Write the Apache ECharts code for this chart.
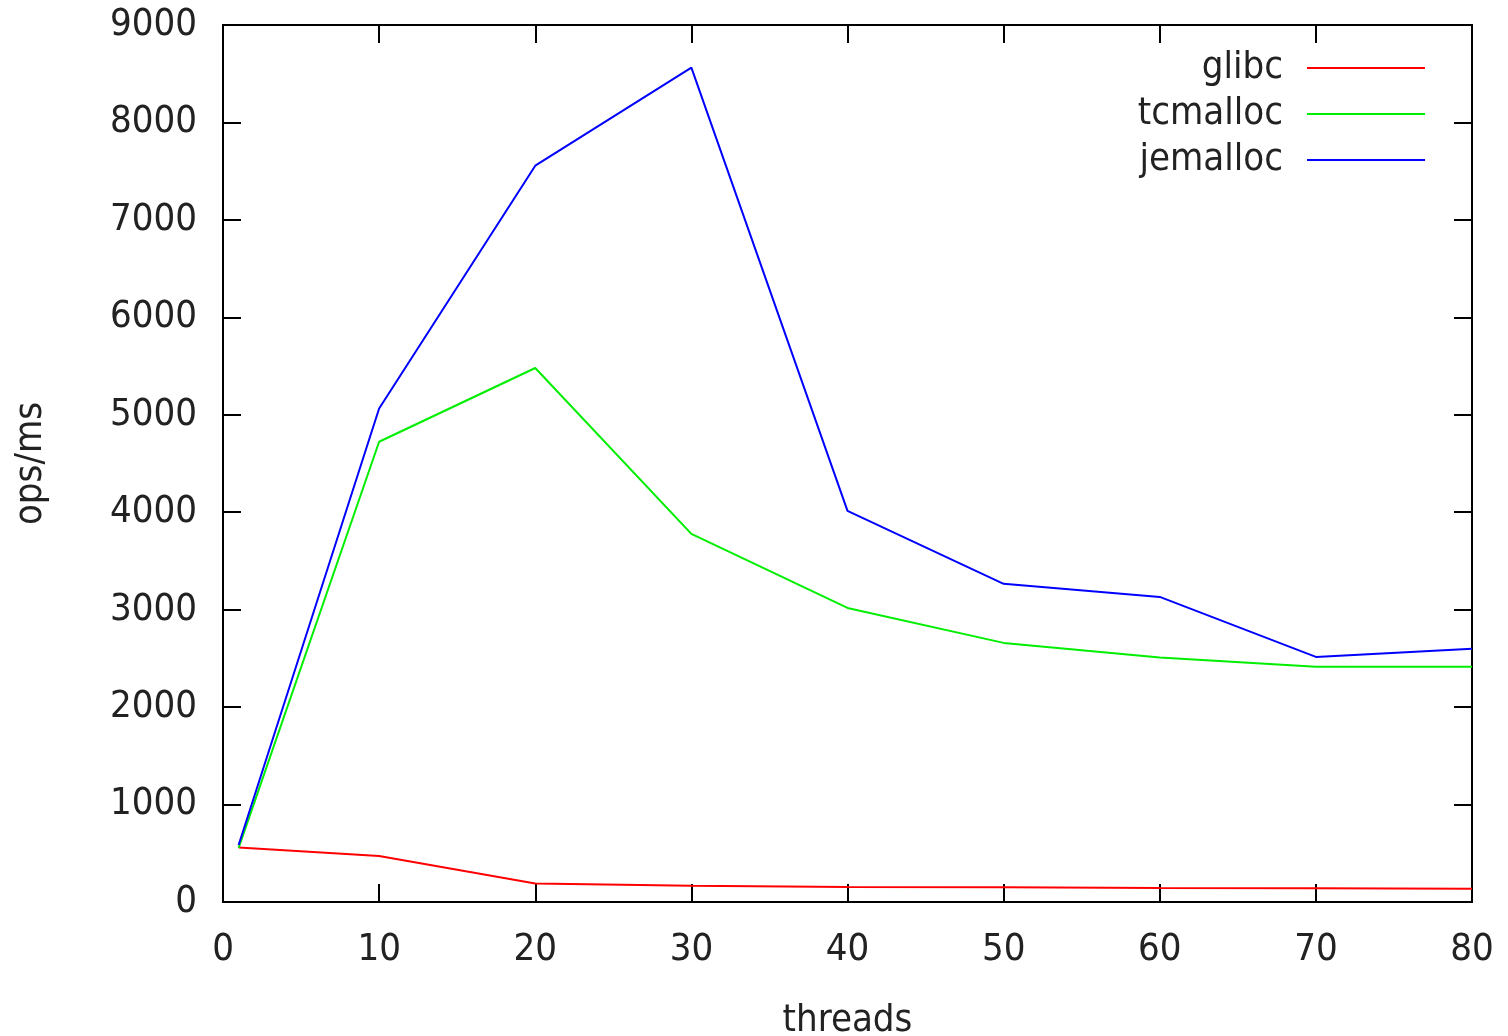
<!DOCTYPE html>
<html>
<head>
<meta charset="utf-8">
<script src="https://cdn.jsdelivr.net/npm/echarts@6/dist/echarts.min.js"></script>
<style>html,body{margin:0;padding:0;background:#fff}#c{width:1508px;height:1036px}</style>
</head>
<body>
<div id="c"></div>
<script>
const threads = [1, 10, 20, 30, 40, 50, 60, 70, 80];
const glibc = [560, 472, 190, 168, 155, 152, 144, 142, 135];
const tcmalloc = [555, 4723, 5480, 3778, 3018, 2659, 2510, 2413, 2413];
const jemalloc = [585, 5065, 7556, 8563, 4014, 3265, 3131, 2515, 2600];
const seriesNames = ['glibc', 'tcmalloc', 'jemalloc'];
const seriesColors = ['#ff0000', '#00ee00', '#0000ff'];

const FONT = '"DejaVu Sans Condensed", "DejaVu Sans", sans-serif';
const chart = echarts.init(document.getElementById('c'));
const mk = (name, vals, color) => ({
  name, type: 'line', data: threads.map((t, i) => [t, vals[i]]),
  showSymbol: false, symbol: 'none', lineStyle: { color, width: 2 }, itemStyle: { color },
  animation: false
});
const tickCommon = { show: true, inside: true, length: 18, lineStyle: { color: '#000', width: 2 } };
const lineCommon = { show: true, onZero: false, lineStyle: { color: '#000', width: 2 } };
const plain = v => String(v);
chart.setOption({
  backgroundColor: '#fff',
  animation: false,
  textStyle: { fontFamily: FONT },
  grid: { left: 223, right: 36, top: 25, bottom: 134, outerBoundsMode: 'none', containLabel: false,
          show: true, borderColor: '#000', borderWidth: 2, backgroundColor: 'transparent' },
  legend: {
    orient: 'vertical', right: 83, top: 49, align: 'right', padding: 0,
    icon: 'rect', itemWidth: 118, itemHeight: 2, itemGap: 8,
    textStyle: { fontFamily: FONT, fontSize: 38, color: '#222', padding: [0, 19, 0, 0] },
    data: seriesNames
  },
  xAxis: [{
    type: 'value', min: 0, max: 80, interval: 10,
    name: 'threads', nameLocation: 'middle', nameGap: 100,
    nameTextStyle: { fontFamily: FONT, fontSize: 38, color: '#222' },
    axisLine: lineCommon,
    axisTick: tickCommon,
    axisLabel: { fontFamily: FONT, fontSize: 38, color: '#222', margin: 29, formatter: plain },
    splitLine: { show: false }
  }, {
    type: 'value', min: 0, max: 80, interval: 10, position: 'top',
    axisLine: lineCommon,
    axisTick: tickCommon, axisLabel: { show: false }, splitLine: { show: false }
  }],
  yAxis: [{
    type: 'value', min: 0, max: 9000, interval: 1000,
    name: 'ops/ms', nameLocation: 'middle', nameGap: 173, nameRotate: 90,
    nameTextStyle: { fontFamily: FONT, fontSize: 38, color: '#222' },
    axisLine: lineCommon,
    axisTick: tickCommon,
    axisLabel: { fontFamily: FONT, fontSize: 38, color: '#222', margin: 26, formatter: plain },
    splitLine: { show: false }
  }, {
    type: 'value', min: 0, max: 9000, interval: 1000, position: 'right',
    axisLine: lineCommon,
    axisTick: tickCommon, axisLabel: { show: false }, splitLine: { show: false }
  }],
  series: [
    mk(seriesNames[0], glibc, seriesColors[0]),
    mk(seriesNames[1], tcmalloc, seriesColors[1]),
    mk(seriesNames[2], jemalloc, seriesColors[2])
  ]
});
</script>
</body>
</html>
